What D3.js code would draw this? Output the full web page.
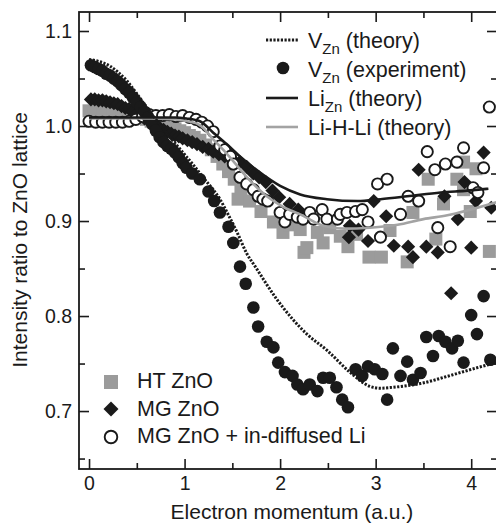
<!DOCTYPE html>
<html>
<head>
<meta charset="utf-8">
<script src="https://cdn.jsdelivr.net/npm/d3@7"></script>
<style>
  body { margin: 0; background: #fff; }
  svg { display: block; font-family: "Liberation Sans", Arial, Helvetica, sans-serif; }
</style>
</head>
<body>
<svg id="chart" width="496" height="523"></svg>
<script>
// V_Zn (theory), dotted
var vznTheory = [[0.00,1.070],[0.10,1.068],[0.22,1.063],[0.30,1.057],[0.40,1.047],[0.50,1.034],
  [0.60,1.020],[0.70,1.007],[0.80,0.994],[0.90,0.982],[1.00,0.970],[1.10,0.958],[1.20,0.945],
  [1.30,0.933],[1.37,0.923],[1.45,0.908],[1.55,0.888],[1.65,0.866],[1.74,0.852],[1.97,0.817],
  [2.28,0.781],[2.49,0.764],[2.73,0.741],[2.94,0.726],[3.05,0.724],[3.18,0.725],[3.47,0.729],
  [3.80,0.738],[4.15,0.748],[4.27,0.751]];

// Li_Zn (theory), black line
var liznTheory = [[0.00,1.009],[0.30,1.009],[0.60,1.009],[0.90,1.009],[1.02,1.008],[1.16,1.005],
  [1.30,0.993],[1.44,0.981],[1.58,0.968],[1.79,0.951],[2.00,0.937],[2.21,0.928],[2.49,0.923],
  [2.81,0.921],[3.05,0.923],[3.33,0.926],[3.68,0.930],[3.96,0.932],[4.18,0.934]];

// Li-H-Li (theory), gray line
var lihliTheory = [[0.00,1.008],[0.30,1.008],[0.64,1.008],[0.90,1.007],[1.03,1.005],[1.16,1.001],
  [1.30,0.986],[1.45,0.970],[1.69,0.942],[1.86,0.926],[2.03,0.915],[2.21,0.907],[2.45,0.895],
  [2.68,0.892],[2.94,0.893],[3.23,0.896],[3.50,0.902],[3.75,0.906],[3.99,0.912],[4.27,0.920]];

// V_Zn (experiment), filled circles
var vznExp = [[0.02,1.064],[0.06,1.062],[0.10,1.060],[0.14,1.058],[0.18,1.055],[0.22,1.053],
  [0.26,1.050],[0.30,1.047],[0.34,1.043],[0.38,1.039],[0.42,1.035],[0.46,1.030],[0.50,1.025],
  [0.54,1.020],[0.58,1.015],[0.62,1.009],[0.66,1.002],[0.70,0.995],[0.74,0.988],[0.78,0.983],
  [0.82,0.979],[0.86,0.976],[0.90,0.972],[0.94,0.967],[0.98,0.961],[1.02,0.956],[1.08,0.950],
  [1.16,0.944],[1.25,0.931],[1.31,0.921],[1.37,0.909],[1.46,0.894],[1.51,0.877],[1.58,0.852],
  [1.64,0.834],[1.72,0.809],[1.77,0.789],[1.86,0.773],[1.93,0.767],[1.98,0.751],[2.05,0.741],
  [2.13,0.737],[2.18,0.728],[2.24,0.723],[2.31,0.728],[2.39,0.721],[2.45,0.735],[2.52,0.735],
  [2.59,0.725],[2.65,0.712],[2.71,0.704],[2.79,0.744],[2.86,0.737],[2.92,0.747],[2.99,0.744],
  [3.07,0.739],[3.12,0.712],[3.18,0.766],[3.26,0.737],[3.33,0.752],[3.39,0.733],[3.47,0.740],
  [3.53,0.778],[3.60,0.758],[3.66,0.779],[3.73,0.773],[3.80,0.766],[3.86,0.774],[3.92,0.751],
  [4.00,0.801],[4.06,0.781],[4.13,0.821],[4.20,0.754]];

// HT ZnO, gray squares
var htZnO = [[0.00,1.016],[0.05,1.015],[0.10,1.015],[0.15,1.014],[0.20,1.014],[0.25,1.013],
  [0.30,1.013],[0.35,1.012],[0.40,1.011],[0.45,1.011],[0.50,1.010],[0.55,1.009],[0.60,1.007],
  [0.65,1.005],[0.70,1.003],[0.75,1.002],[0.80,1.000],[0.85,0.998],[0.90,0.997],[0.95,0.995],
  [1.00,0.993],[1.05,0.990],[1.10,0.988],[1.16,0.985],[1.22,0.980],[1.28,0.975],[1.34,0.968],
  [1.40,0.960],[1.46,0.952],[1.52,0.944],[1.56,0.923],[1.59,0.931],[1.68,0.921],[1.80,0.910],
  [1.93,0.899],[2.03,0.888],[2.10,0.896],[2.21,0.891],[2.25,0.867],[2.28,0.872],[2.39,0.888],
  [2.45,0.877],[2.52,0.893],[2.63,0.884],[2.71,0.873],[2.80,0.886],[2.93,0.862],[3.06,0.862],
  [3.15,0.890],[3.33,0.857],[3.39,0.909],[3.55,0.944],[3.63,0.881],[3.71,0.918],[3.85,0.944],
  [3.92,0.962],[3.92,0.933],[3.99,0.910],[4.05,0.955],[4.19,0.868]];

// MG ZnO, black diamonds
var mgZnO = [[0.02,1.028],[0.06,1.028],[0.10,1.027],[0.14,1.027],[0.18,1.026],[0.22,1.025],
  [0.26,1.024],[0.30,1.023],[0.34,1.021],[0.38,1.019],[0.42,1.018],[0.46,1.015],[0.50,1.013],
  [0.54,1.011],[0.58,1.008],[0.62,1.006],[0.66,1.003],[0.70,1.001],[0.74,0.998],[0.78,0.996],
  [0.82,0.994],[0.86,0.992],[0.90,0.990],[0.94,0.989],[0.98,0.987],[1.03,0.985],[1.08,0.983],
  [1.13,0.981],[1.19,0.978],[1.25,0.976],[1.30,0.973],[1.36,0.970],[1.42,0.968],[1.50,0.965],
  [1.58,0.962],[1.65,0.957],[1.72,0.950],[1.78,0.946],[1.85,0.941],[1.92,0.932],[1.99,0.925],
  [2.10,0.918],[2.19,0.912],[2.27,0.906],[2.72,0.883],[2.73,0.895],[2.82,0.891],[2.92,0.879],
  [2.98,0.921],[3.11,0.905],[3.19,0.874],[3.34,0.873],[3.39,0.862],[3.45,0.954],[3.53,0.873],
  [3.65,0.867],[3.72,0.926],[3.79,0.824],[3.86,0.902],[3.93,0.941],[4.00,0.872],[4.05,0.921],
  [4.13,0.972],[4.21,0.914]];

// MG ZnO + in-diffused Li, open circles
var mgZnOLi = [[0.00,1.005],[0.07,1.004],[0.14,1.004],[0.21,1.004],[0.28,1.004],[0.35,1.004],
  [0.42,1.005],[0.49,1.007],[0.56,1.010],[0.63,1.012],[0.70,1.011],[0.77,1.011],[0.84,1.012],
  [0.91,1.010],[0.98,1.011],[1.05,1.009],[1.12,1.007],[1.18,1.004],[1.24,1.000],[1.30,0.994],
  [1.37,0.979],[1.42,0.975],[1.48,0.968],[1.51,0.960],[1.58,0.946],[1.65,0.939],[1.72,0.933],
  [1.77,0.926],[1.82,0.923],[1.87,0.921],[2.00,0.909],[2.05,0.899],[2.10,0.907],[2.18,0.904],
  [2.24,0.902],[2.31,0.909],[2.35,0.902],[2.44,0.912],[2.49,0.902],[2.60,0.902],[2.63,0.907],
  [2.70,0.909],[2.79,0.910],[2.86,0.912],[2.92,0.899],[3.02,0.939],[3.05,0.883],[3.12,0.944],
  [3.26,0.907],[3.34,0.926],[3.45,0.921],[3.54,0.973],[3.62,0.954],[3.65,0.893],[3.73,0.960],
  [3.78,0.873],[3.85,0.962],[3.92,0.977],[4.02,0.935],[4.07,0.930],[4.13,0.956],[4.19,1.020]];

var xMajor = [0, 1, 2, 3, 4],
    xMinor = [0.5, 1.5, 2.5, 3.5],
    yMajor = [0.7, 0.8, 0.9, 1.0, 1.1],
    yMinor = [0.65, 0.75, 0.85, 0.95, 1.05];

var svg = d3.select("#chart");
// plot frame in pixels
var frame = {left: 79, right: 497, top: 12, bottom: 469};

var x = d3.scaleLinear().domain([-0.105, 4.27]).range([frame.left, frame.right]),
    y = d3.scaleLinear().domain([0.639, 1.12]).range([frame.bottom, frame.top]);

var ink = "#1a1a1a", gray = "#9b9b9b";

// frame ticks: major/minor on all four sides, pointing in
function ticks(axisFn, scale, vals, size, tx, ty, labels) {
  var a = axisFn(scale).tickValues(vals).tickSizeInner(size).tickSizeOuter(0).tickPadding(7);
  if (!labels) a.tickFormat("");
  else a.tickFormat(d3.format(".1f"));
  var g = svg.append("g").attr("transform", "translate(" + tx + "," + ty + ")").call(a);
  g.select(".domain").remove();
  g.selectAll("line").attr("stroke", ink).attr("stroke-width", 1.6);
  g.selectAll("text").attr("fill", ink).style("font-size", "19.5px")
    .style("font-family", "'Liberation Sans', Arial, sans-serif");
  return g;
}
ticks(d3.axisBottom, x, xMajor, -10, 0, frame.bottom, true).selectAll("text").text(function(d){ return d; });
ticks(d3.axisBottom, x, xMinor, -6, 0, frame.bottom, false);
ticks(d3.axisTop, x, xMajor, -10, 0, frame.top, false);
ticks(d3.axisTop, x, xMinor, -6, 0, frame.top, false);
ticks(d3.axisLeft, y, yMajor, -10, frame.left, 0, true);
ticks(d3.axisLeft, y, yMinor, -6, frame.left, 0, false);
ticks(d3.axisRight, y, yMajor, -10, frame.right, 0, false);
ticks(d3.axisRight, y, yMinor, -6, frame.right, 0, false);

svg.append("rect")
  .attr("x", frame.left).attr("y", frame.top)
  .attr("width", frame.right - frame.left).attr("height", frame.bottom - frame.top)
  .attr("fill", "none").attr("stroke", ink).attr("stroke-width", 1.8);

// axis titles
svg.append("text")
  .attr("x", 292).attr("y", 519)
  .attr("text-anchor", "middle").attr("fill", ink)
  .style("font-size", "21px")
  .text("Electron momentum (a.u.)");

svg.append("text")
  .attr("transform", "translate(27,240) rotate(-90)")
  .attr("text-anchor", "middle").attr("fill", ink)
  .style("font-size", "21px")
  .text("Intensity ratio to ZnO lattice");

// marks
var plot = svg.append("g");
var diamond = d3.symbol().type(d3.symbolSquare).size(100);

plot.selectAll(".sq")
  .data(htZnO)
  .enter().append("rect")
    .attr("class", "sq")
    .attr("x", function(d) { return x(d[0]) - 6.5; })
    .attr("y", function(d) { return y(d[1]) - 6.5; })
    .attr("width", 13).attr("height", 13)
    .attr("fill", gray);

plot.selectAll(".dm")
  .data(mgZnO)
  .enter().append("path")
    .attr("class", "dm")
    .attr("d", diamond)
    .attr("transform", function(d) { return "translate(" + x(d[0]) + "," + y(d[1]) + ") rotate(45)"; })
    .attr("fill", ink);

plot.selectAll(".oc")
  .data(mgZnOLi)
  .enter().append("circle")
    .attr("class", "oc")
    .attr("cx", function(d) { return x(d[0]); })
    .attr("cy", function(d) { return y(d[1]); })
    .attr("r", 5.6)
    .attr("fill", "#fff").attr("stroke", ink).attr("stroke-width", 1.9);

plot.selectAll(".fc")
  .data(vznExp)
  .enter().append("circle")
    .attr("class", "fc")
    .attr("cx", function(d) { return x(d[0]); })
    .attr("cy", function(d) { return y(d[1]); })
    .attr("r", 6.3)
    .attr("fill", ink);

var line = d3.line()
  .x(function(d) { return x(d[0]); })
  .y(function(d) { return y(d[1]); })
  .curve(d3.curveMonotoneX);

plot.append("path").datum(lihliTheory)
  .attr("d", line).attr("fill", "none")
  .attr("stroke", "#a3a3a3").attr("stroke-width", 2.6);

plot.append("path").datum(liznTheory)
  .attr("d", line).attr("fill", "none")
  .attr("stroke", ink).attr("stroke-width", 2.6);

plot.append("path").datum(vznTheory)
  .attr("d", line).attr("fill", "none")
  .attr("stroke", ink).attr("stroke-width", 3)
  .attr("stroke-dasharray", "2.2,1.5");

// top-right legend
var lg = svg.append("g").style("font-size", "21.5px").attr("fill", ink);
function sub(main, s, rest, yb) {
  var t = lg.append("text").attr("x", 308).attr("y", yb);
  t.append("tspan").text(main);
  if (s) t.append("tspan").attr("dy", 6).style("font-size", "15px").text(s);
  t.append("tspan").attr("dy", s ? -6 : 0).text(rest);
}
lg.append("line").attr("x1", 266).attr("x2", 298).attr("y1", 40).attr("y2", 40)
  .attr("stroke", ink).attr("stroke-width", 3).attr("stroke-dasharray", "2.2,1.5");
sub("V", "Zn", " (theory)", 48);
lg.append("circle").attr("cx", 283).attr("cy", 68).attr("r", 6.3).attr("fill", ink);
sub("V", "Zn", " (experiment)", 77);
lg.append("line").attr("x1", 266).attr("x2", 298).attr("y1", 98).attr("y2", 98)
  .attr("stroke", ink).attr("stroke-width", 2.6);
sub("Li", "Zn", " (theory)", 106);
lg.append("line").attr("x1", 266).attr("x2", 298).attr("y1", 127).attr("y2", 127)
  .attr("stroke", "#a3a3a3").attr("stroke-width", 2.6);
sub("Li-H-Li (theory)", null, "", 135);

// bottom-left legend
var lg2 = svg.append("g").style("font-size", "21.5px").attr("fill", ink);
lg2.append("rect").attr("x", 104).attr("y", 375).attr("width", 14).attr("height", 14).attr("fill", gray);
lg2.append("text").attr("x", 137).attr("y", 388).text("HT ZnO");
lg2.append("path").attr("d", d3.symbol().type(d3.symbolSquare).size(112))
  .attr("transform", "translate(111,409) rotate(45)").attr("fill", ink);
lg2.append("text").attr("x", 137).attr("y", 416).text("MG ZnO");
lg2.append("circle").attr("cx", 111).attr("cy", 437).attr("r", 6.3)
  .attr("fill", "#fff").attr("stroke", ink).attr("stroke-width", 1.9);
lg2.append("text").attr("x", 137).attr("y", 443).text("MG ZnO + in-diffused Li");
</script>
</body>
</html>
